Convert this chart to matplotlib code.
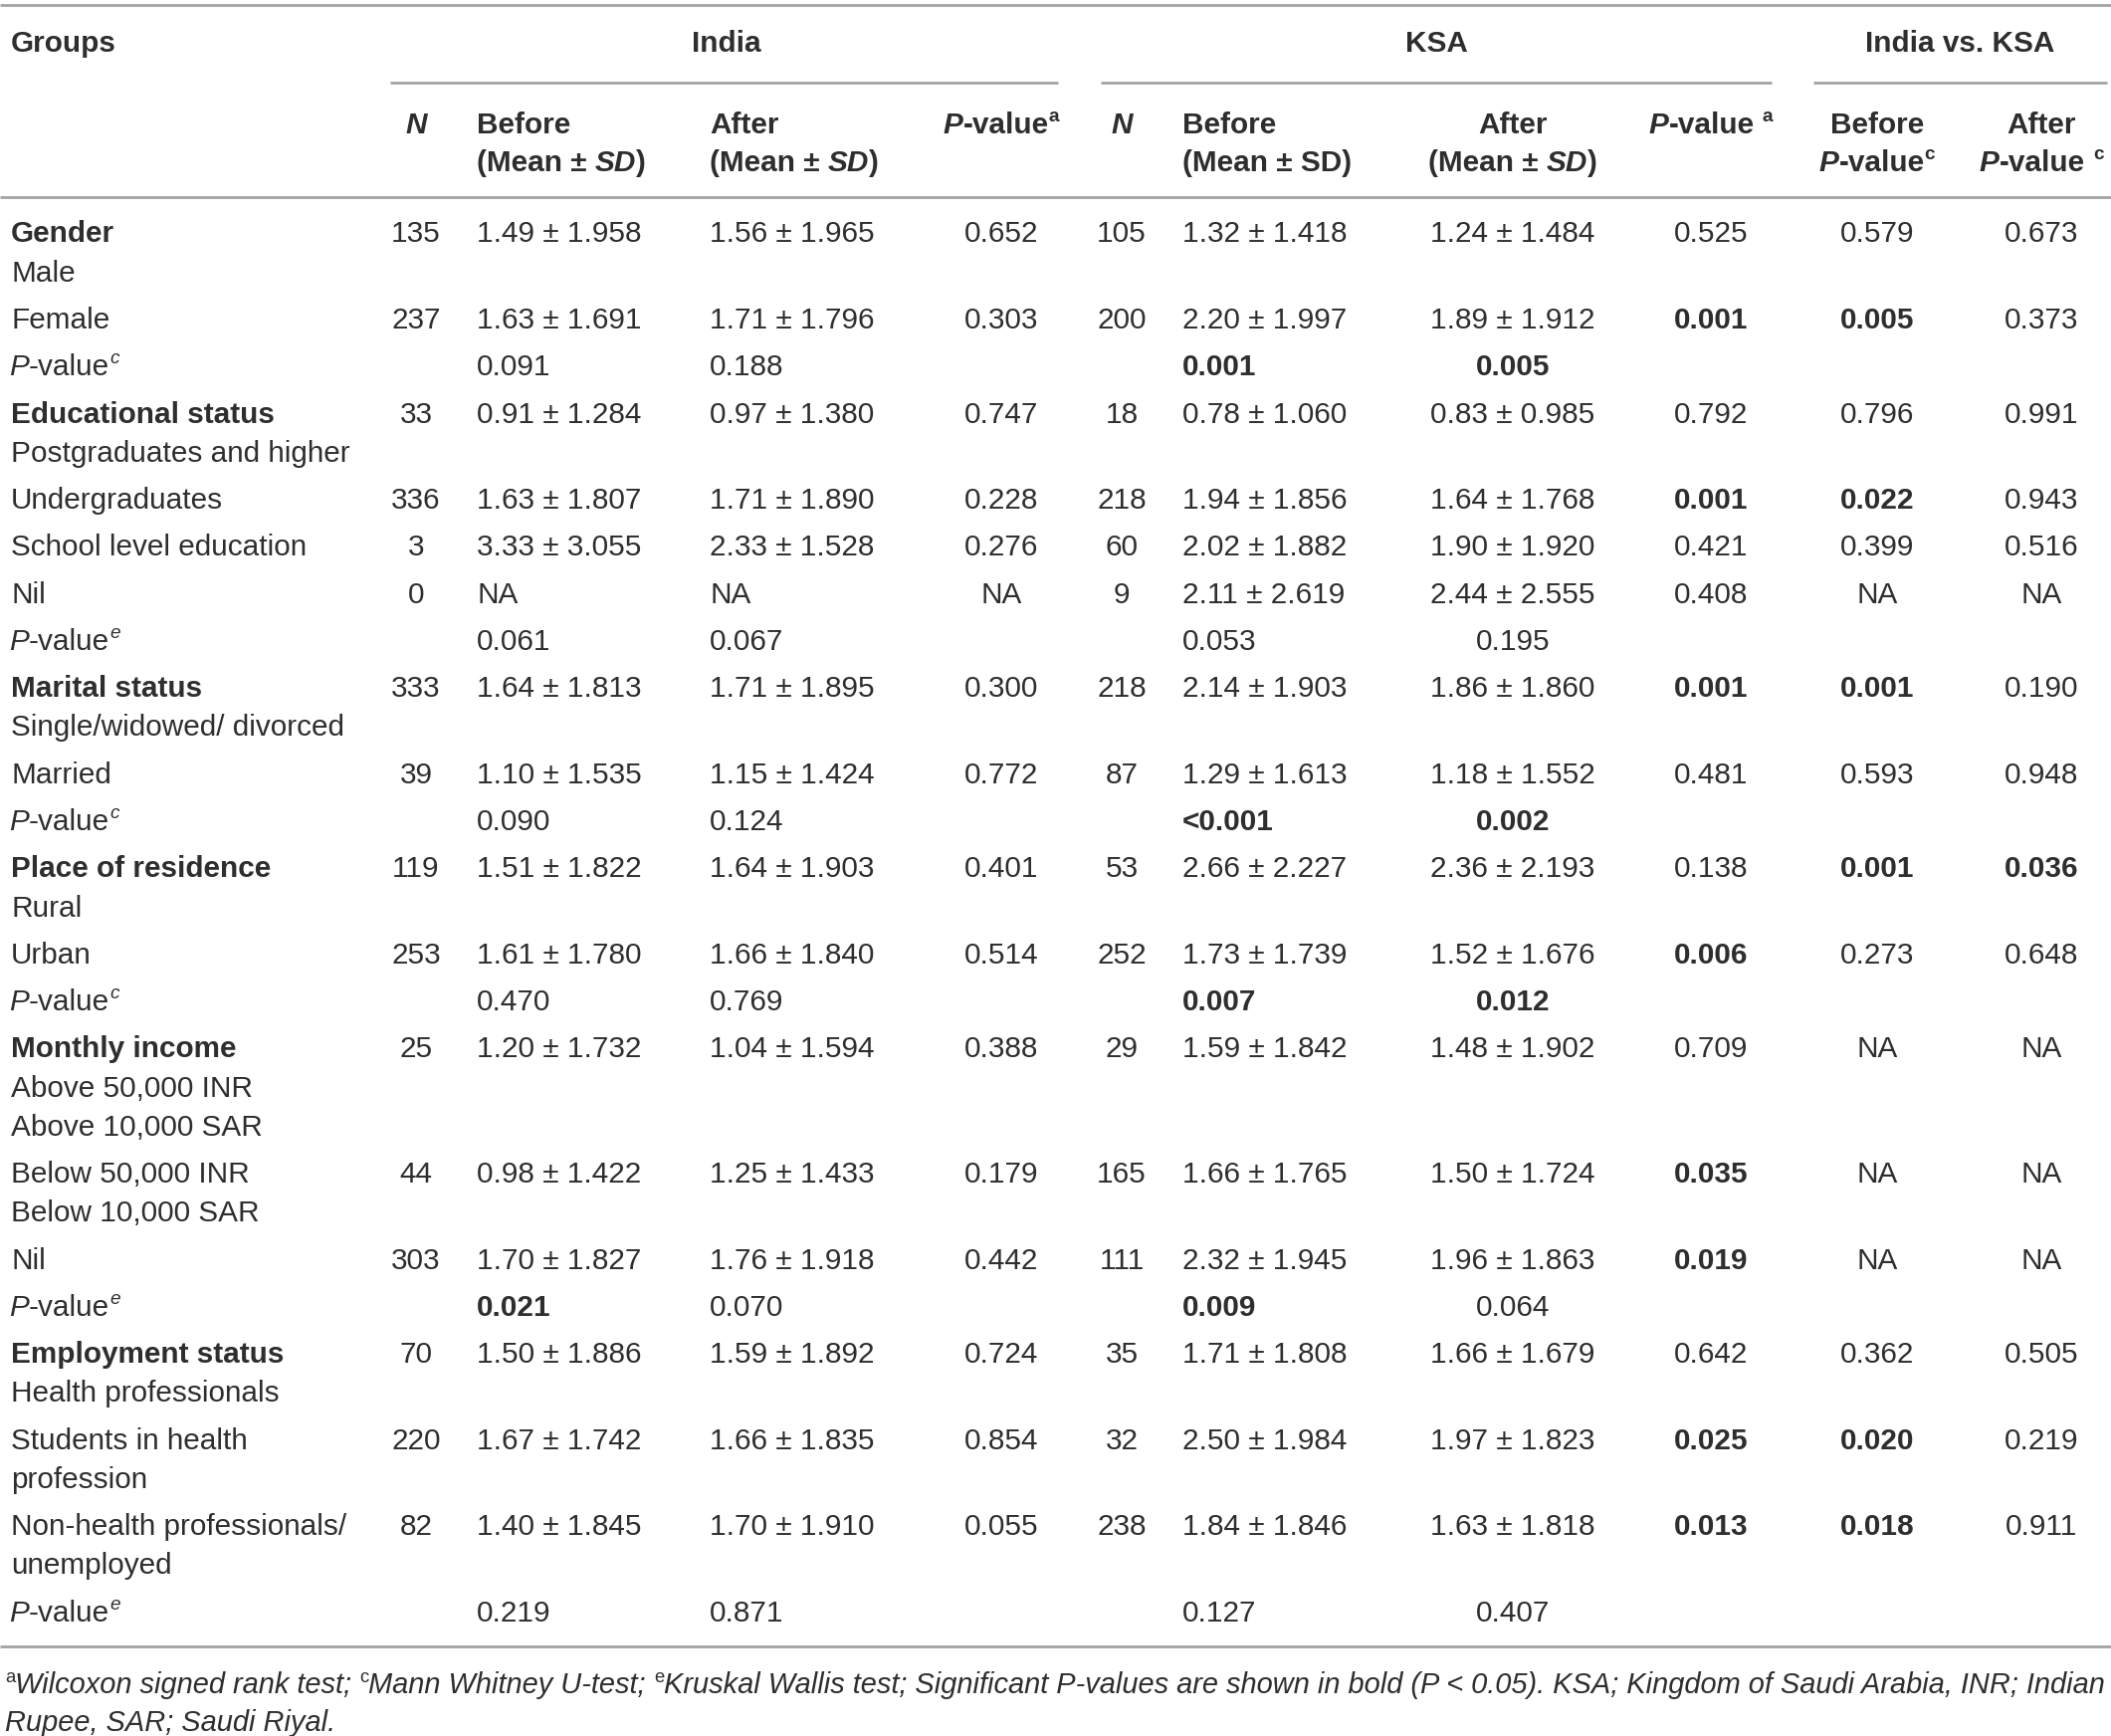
import matplotlib
matplotlib.use("Agg")
import matplotlib.pyplot as plt

FONT = ["Liberation Sans", "DejaVu Sans"]
FS = 21.4
INK = "#2e2e2e"
RULE = "#a3a3a3"

# ---- table content ----
countries = ["India", "KSA", "India vs. KSA"]

# row order: "d" = data row with label lines, "p" = P-value row with superscript
row_order = [
    ("d", ["Gender", "Male"]),
    ("d", ["Female"]),
    ("p", "c"),
    ("d", ["Educational status", "Postgraduates and higher"]),
    ("d", ["Undergraduates"]),
    ("d", ["School level education"]),
    ("d", ["Nil"]),
    ("p", "e"),
    ("d", ["Marital status", "Single/widowed/ divorced"]),
    ("d", ["Married"]),
    ("p", "c"),
    ("d", ["Place of residence", "Rural"]),
    ("d", ["Urban"]),
    ("p", "c"),
    ("d", ["Monthly income", "Above 50,000 INR", "Above 10,000 SAR"]),
    ("d", ["Below 50,000 INR", "Below 10,000 SAR"]),
    ("d", ["Nil"]),
    ("p", "e"),
    ("d", ["Employment status", "Health professionals"]),
    ("d", ["Students in health", "profession"]),
    ("d", ["Non-health professionals/", "unemployed"]),
    ("p", "e"),
]
headings = {"Gender", "Educational status", "Marital status", "Place of residence",
            "Monthly income", "Employment status"}

india_n = [135, 237, 33, 336, 3, 0, 333, 39, 119, 253, 25, 44, 303, 70, 220, 82]
india_before_mean = [1.49, 1.63, 0.91, 1.63, 3.33, None, 1.64, 1.10, 1.51, 1.61, 1.20, 0.98, 1.70, 1.50, 1.67, 1.40]
india_before_sd = [1.958, 1.691, 1.284, 1.807, 3.055, None, 1.813, 1.535, 1.822, 1.780, 1.732, 1.422, 1.827, 1.886, 1.742, 1.845]
india_after_mean = [1.56, 1.71, 0.97, 1.71, 2.33, None, 1.71, 1.15, 1.64, 1.66, 1.04, 1.25, 1.76, 1.59, 1.66, 1.70]
india_after_sd = [1.965, 1.796, 1.380, 1.890, 1.528, None, 1.895, 1.424, 1.903, 1.840, 1.594, 1.433, 1.918, 1.892, 1.835, 1.910]
india_p = ["0.652", "0.303", "0.747", "0.228", "0.276", "NA", "0.300", "0.772", "0.401", "0.514",
           "0.388", "0.179", "0.442", "0.724", "0.854", "0.055"]

ksa_n = [105, 200, 18, 218, 60, 9, 218, 87, 53, 252, 29, 165, 111, 35, 32, 238]
ksa_before_mean = [1.32, 2.20, 0.78, 1.94, 2.02, 2.11, 2.14, 1.29, 2.66, 1.73, 1.59, 1.66, 2.32, 1.71, 2.50, 1.84]
ksa_before_sd = [1.418, 1.997, 1.060, 1.856, 1.882, 2.619, 1.903, 1.613, 2.227, 1.739, 1.842, 1.765, 1.945, 1.808, 1.984, 1.846]
ksa_after_mean = [1.24, 1.89, 0.83, 1.64, 1.90, 2.44, 1.86, 1.18, 2.36, 1.52, 1.48, 1.50, 1.96, 1.66, 1.97, 1.63]
ksa_after_sd = [1.484, 1.912, 0.985, 1.768, 1.920, 2.555, 1.860, 1.552, 2.193, 1.676, 1.902, 1.724, 1.863, 1.679, 1.823, 1.818]
ksa_p = ["0.525", "0.001", "0.792", "0.001", "0.421", "0.408", "0.001", "0.481", "0.138", "0.006",
         "0.709", "0.035", "0.019", "0.642", "0.025", "0.013"]

ivk_before_p = ["0.579", "0.005", "0.796", "0.022", "0.399", "NA", "0.001", "0.593", "0.001", "0.273",
                "NA", "NA", "NA", "0.362", "0.020", "0.018"]
ivk_after_p = ["0.673", "0.373", "0.991", "0.943", "0.516", "NA", "0.190", "0.948", "0.036", "0.648",
               "NA", "NA", "NA", "0.505", "0.219", "0.911"]

# group comparison P-value rows (India before, India after, KSA before, KSA after)
grp_india_before = ["0.091", "0.061", "0.090", "0.470", "0.021", "0.219"]
grp_india_after = ["0.188", "0.067", "0.124", "0.769", "0.070", "0.871"]
grp_ksa_before = ["0.001", "0.053", "<0.001", "0.007", "0.009", "0.127"]
grp_ksa_after = ["0.005", "0.195", "0.002", "0.012", "0.064", "0.407"]

footnote1 = [("a", "^"), ("Wilcoxon signed rank test; ", "i"), ("c", "^"), ("Mann Whitney U-test; ", "i"),
             ("e", "^"), ("Kruskal Wallis test; Significant P-values are shown in bold (P < 0.05). "
                          "KSA; Kingdom of Saudi Arabia, INR; Indian", "i")]
footnote2 = [("Rupee, SAR; Saudi Riyal.", "i")]

# ---- drawing ----
W, H = 2121, 1744
fig = plt.figure(figsize=(W / 100, H / 100), dpi=100)
ax = fig.add_axes([0, 0, 1, 1])
ax.set_xlim(0, W)
ax.set_ylim(H, 0)
ax.axis("off")
renderer = fig.canvas.get_renderer()
PX = 100 / 72


def style_of(code):
    return ("bold" if "b" in code else "normal",
            "italic" if "i" in code else "normal",
            "^" in code)


def text_w(s, wt, st, fs):
    t = ax.text(0, 0, s, fontsize=fs, fontweight=wt, fontstyle=st, family=FONT)
    w = t.get_window_extent(renderer).width
    t.remove()
    return w


def layout(parts, size):
    items = []
    total = 0
    for s, code in parts:
        wt, st, sup = style_of(code)
        fs = size * 0.64 if sup else size
        core = s.strip(" ")
        lead = len(s) - len(s.lstrip(" "))
        trail = len(s) - len(s.rstrip(" "))
        sw = text_w("a a", wt, st, fs) - text_w("aa", wt, st, fs)
        w = text_w(core, wt, st, fs) if core else 0
        items.append((core, wt, st, fs, sup, total + lead * sw))
        total += lead * sw + w + trail * sw
    return items, total


def put(x, y, parts, ha="left", size=FS):
    items, total = layout(parts, size)
    x0 = x - total / 2 if ha == "center" else (x - total if ha == "right" else x)
    base = y + size * PX * 0.36
    for core, wt, st, fs, sup, off in items:
        yy = base - (size * PX * 0.40 if sup else 0)
        ax.text(x0 + off, yy, core, fontsize=fs, fontweight=wt, fontstyle=st,
                va="baseline", ha="left", color=INK, family=FONT)
    return total


def sig(s):
    return s.startswith("<") or (s != "NA" and float(s) < 0.05)


def pv(s):
    return [(s, "b" if sig(s) else "r")]


def msd(m, sd):
    return "NA" if m is None else f"{m:.2f} \u00b1 {sd:.3f}"


def rule(y, x0, x1, lw=2.0):
    ax.plot([x0, x1], [y, y], color=RULE, lw=lw, solid_capstyle="butt")


# column positions (pixels)
X_LABEL = 11
X_IN_N, X_IN_B, X_IN_A, X_IN_P = 418, 479, 713, 1006
X_KS_N, X_KS_B, X_KS_A, X_KS_P = 1127, 1188, 1520, 1719
X_IK_B, X_IK_A = 1886, 2051

# rules
rule(5, 0, W)
rule(83, 392, 1063)
rule(83, 1106, 1780)
rule(83, 1822, 2117)
rule(198, 0, W)
rule(1654, 0, W)

# header
put(X_LABEL, 41, [("Groups", "b")])
put(730, 41, [(countries[0], "b")], ha="center")
put(1443, 41, [(countries[1], "b")], ha="center")
put(1969, 41, [(countries[2], "b")], ha="center")

put(X_IN_N, 123, [("N", "bi")], ha="center")
put(X_IN_B, 123, [("Before", "b")])
put(X_IN_B, 161, [("(Mean \u00b1 ", "b"), ("SD", "bi"), (")", "b")])
put(X_IN_A, 123, [("After", "b")])
put(X_IN_A, 161, [("(Mean \u00b1 ", "b"), ("SD", "bi"), (")", "b")])
put(X_IN_P, 123, [("P", "bi"), ("-value", "b"), ("a", "b^")], ha="center")
put(X_KS_N, 123, [("N", "bi")], ha="center")
put(X_KS_B, 123, [("Before", "b")])
put(X_KS_B, 161, [("(Mean \u00b1 SD)", "b")])
put(X_KS_A, 123, [("After", "b")], ha="center")
put(X_KS_A, 161, [("(Mean \u00b1 ", "b"), ("SD", "bi"), (")", "b")], ha="center")
put(X_KS_P, 123, [("P", "bi"), ("-value ", "b"), ("a", "b^")], ha="center")
put(X_IK_B, 123, [("Before", "b")], ha="center")
put(X_IK_B, 161, [("P", "bi"), ("-value", "b"), ("c", "b^")], ha="center")
put(X_IK_A, 123, [("After", "b")], ha="center")
put(X_IK_A, 161, [("P", "bi"), ("-value ", "b"), ("c", "b^")], ha="center")

# body
y = 232.7
LINE, ROW = 39.2, 47.3
di = 0
pi = 0
for kind, lab in row_order:
    if kind == "d":
        for k, line in enumerate(lab):
            code = "b" if (k == 0 and line in headings) else "r"
            put(X_LABEL, y + k * LINE, [(line, code)])
        put(X_IN_N, y, [(str(india_n[di]), "r")], ha="center")
        put(X_IN_B, y, [(msd(india_before_mean[di], india_before_sd[di]), "r")])
        put(X_IN_A, y, [(msd(india_after_mean[di], india_after_sd[di]), "r")])
        put(X_IN_P, y, pv(india_p[di]), ha="center")
        put(X_KS_N, y, [(str(ksa_n[di]), "r")], ha="center")
        put(X_KS_B, y, [(msd(ksa_before_mean[di], ksa_before_sd[di]), "r")])
        put(X_KS_A, y, [(msd(ksa_after_mean[di], ksa_after_sd[di]), "r")], ha="center")
        put(X_KS_P, y, pv(ksa_p[di]), ha="center")
        put(X_IK_B, y, pv(ivk_before_p[di]), ha="center")
        put(X_IK_A, y, pv(ivk_after_p[di]), ha="center")
        y += (len(lab) - 1) * LINE + ROW
        di += 1
    else:
        put(X_LABEL - 2, y, [("P", "i"), ("-value", "r"), (lab, "i^")])
        put(X_IN_B, y, pv(grp_india_before[pi]))
        put(X_IN_A, y, pv(grp_india_after[pi]))
        put(X_KS_B, y, pv(grp_ksa_before[pi]))
        put(X_KS_A, y, pv(grp_ksa_after[pi]), ha="center")
        y += ROW
        pi += 1

# footnote, sized so that the first line spans the table width
_, fn_w = layout(footnote1, 20)
fn_size = 20 * 2108 / fn_w
put(5, 1691, footnote1, size=fn_size)
put(5, 1729, footnote2, size=fn_size)

fig.savefig("out.png", dpi=100)
